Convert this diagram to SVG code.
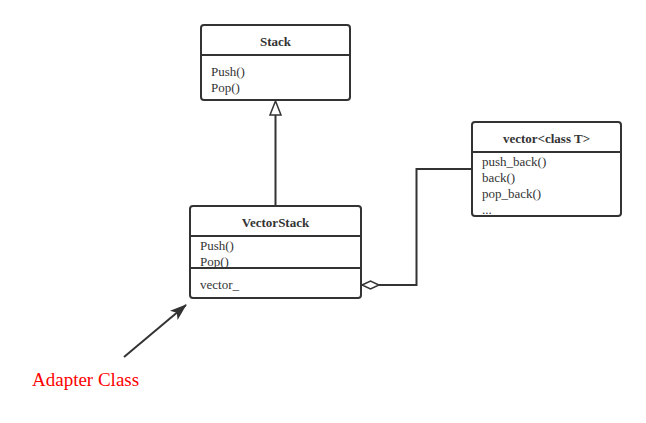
<svg xmlns="http://www.w3.org/2000/svg" width="646" height="423" viewBox="0 0 646 423">
<style>
.box{fill:#fff;stroke:#333;stroke-width:2}
.div{stroke:#333;stroke-width:2}
.t{font-family:"Liberation Serif",serif;font-size:13px;fill:#333}
.b{font-weight:bold;text-anchor:middle}
.c{fill:none;stroke:#333;stroke-width:2}
</style>
<defs>
<marker id="tri" markerWidth="12" markerHeight="12" refX="1" refY="6" orient="auto" markerUnits="userSpaceOnUse" viewBox="0 0 12 12"><path d="M1,6 L11,1 L11,11 Z" transform="rotate(180 6 6)" fill="#fff" stroke="#333" stroke-width="1.5"/></marker>
<marker id="arr" markerWidth="18" markerHeight="14" refX="16" refY="7" orient="auto" markerUnits="userSpaceOnUse" viewBox="0 0 18 14"><path d="M0,1 L17,7 L0,13 L4,7 Z" fill="#333"/></marker>
</defs>
<g id="connectors">
<path class="c" d="M275.5,206 L275.5,115"/>
<path d="M275.5,101 L281,115 L270,115 Z" fill="#fff" stroke="#333" stroke-width="1.5"/>
<path class="c" d="M472,169 L416.5,169 L416.5,285 L379,285"/>
<path d="M362,285 L370.5,281 L379,285 L370.5,289 Z" fill="#fff" stroke="#333" stroke-width="1.5"/>
<path class="c" d="M124,357 L186,305" marker-end="url(#arr)"/>
</g>
<g id="stack">
<rect class="box" x="201" y="25" width="149" height="75" rx="3"/>
<line class="div" x1="201" y1="55" x2="350" y2="55"/>
<text class="t b" x="275.5" y="46">Stack</text>
<text class="t" x="211" y="76">Push()</text>
<text class="t" x="211" y="92">Pop()</text>
</g>
<g id="vectorstack">
<rect class="box" x="190" y="206" width="171" height="92" rx="3"/>
<line class="div" x1="190" y1="236" x2="361" y2="236"/>
<line class="div" x1="190" y1="268" x2="361" y2="268"/>
<text class="t b" x="275.5" y="227">VectorStack</text>
<text class="t" x="200" y="250">Push()</text>
<text class="t" x="200" y="266">Pop()</text>
<text class="t" x="200" y="289">vector_</text>
</g>
<g id="vector">
<rect class="box" x="472" y="122" width="149" height="94" rx="3"/>
<line class="div" x1="472" y1="152" x2="621" y2="152"/>
<text class="t b" x="546.5" y="143">vector&lt;class T&gt;</text>
<text class="t" x="482" y="166">push_back()</text>
<text class="t" x="482" y="182">back()</text>
<text class="t" x="482" y="198">pop_back()</text>
<text class="t" x="482" y="214">...</text>
</g>
<g id="label">
<text x="32" y="386" font-family="Liberation Serif,serif" font-size="19" fill="#f00">Adapter Class</text>
</g>
</svg>
